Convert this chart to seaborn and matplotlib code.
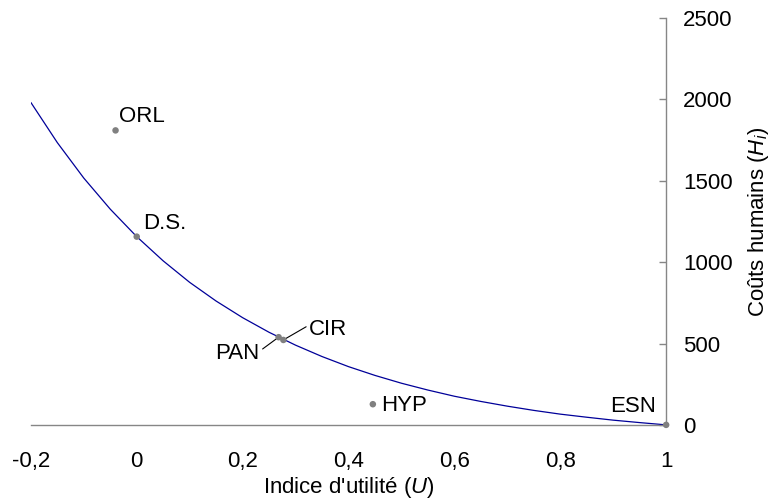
import numpy as np
import pandas as pd
import matplotlib
matplotlib.use("Agg")
import matplotlib.pyplot as plt
import seaborn as sns
from matplotlib.ticker import FuncFormatter

# Sectors: utility index U and human costs H_i
sectors = ["ORL", "D.S.", "PAN", "CIR", "HYP", "ESN"]
utility = [-0.04, 0.0, 0.268, 0.277, 0.446, 1.0]
costs = [1810, 1157, 539, 522, 127, 0]

# Fitted curve, every 0.05
curve_u = [-0.2, -0.15, -0.1, -0.05, 0.0, 0.05, 0.1, 0.15, 0.2, 0.25, 0.3, 0.35, 0.4,
           0.45, 0.5, 0.55, 0.6, 0.65, 0.7, 0.75, 0.8, 0.85, 0.9, 0.95, 1.0]
curve_h = [1982, 1735, 1517, 1326, 1157, 1008, 876, 761, 659, 569, 490, 420, 358,
           304, 256, 214, 176, 144, 115, 89, 66, 47, 29, 14, 0]

x_ticks = [-0.2, 0, 0.2, 0.4, 0.6, 0.8, 1]
y_ticks = [0, 500, 1000, 1500, 2000, 2500]

pts = pd.DataFrame({"sector": sectors, "U": utility, "H": costs})
curve = pd.DataFrame({"U": curve_u, "H": curve_h})

sns.set_theme(style="white")
plt.rcParams["font.family"] = ["Liberation Sans", "DejaVu Sans"]
plt.rcParams["mathtext.fontset"] = "custom"
plt.rcParams["mathtext.it"] = "Liberation Sans:italic"
plt.rcParams["mathtext.rm"] = "Liberation Sans"
plt.rcParams["text.color"] = "black"
plt.rcParams["axes.labelcolor"] = "black"

fig = plt.figure(figsize=(7.71, 5.04), dpi=100)
ax = fig.add_axes([0.040, 0.157, 0.824, 0.807])

sns.lineplot(data=curve, x="U", y="H", ax=ax, color="#000099", linewidth=0.9)
sns.scatterplot(data=pts, x="U", y="H", ax=ax, color="#808080", s=22,
                edgecolor="none", zorder=5, clip_on=False)

# labels (left edge / baseline offsets)
fs = 16
label_pos = {"ORL": (0.006, 50), "D.S.": (0.012, 50), "CIR": (0.048, 30),
             "HYP": (0.016, -40), "ESN": (-0.106, 82)}
for s, u, h in zip(sectors, utility, costs):
    if s in label_pos:
        dx, dy = label_pos[s]
        ty = dy if s == "ESN" else h + dy
        ax.text(u + dx, ty, s, fontsize=fs, ha="left", va="baseline", color="black")
# PAN and CIR with leader lines
ax.annotate("PAN", xy=(utility[2], costs[2]), xytext=(0.148, 405), fontsize=fs,
            ha="left", va="baseline",
            arrowprops=dict(arrowstyle="-", color="black", lw=0.8, shrinkA=0, shrinkB=0,
                            relpos=(1.0, 0.6)))
ax.plot([utility[3], 0.32], [costs[3], 603], color="black", lw=0.8)

ax.set_xlim(-0.2, 1.0)
ax.set_ylim(0, 2500)
ax.set_xticks(x_ticks)
ax.set_yticks(y_ticks)
fmt = FuncFormatter(lambda v, p: f"{v:g}".replace(".", ",").replace("\u2212", "-"))
ax.xaxis.set_major_formatter(fmt)

ax.yaxis.tick_right()
ax.yaxis.set_label_position("right")
for side in ["top", "left"]:
    ax.spines[side].set_visible(False)
for side in ["bottom", "right"]:
    ax.spines[side].set_color("#868686")
    ax.spines[side].set_linewidth(1.0)

ax.tick_params(axis="x", direction="out", length=5, width=1, color="#868686",
               labelsize=fs, pad=14, labelcolor="black")
ax.tick_params(axis="y", direction="in", length=5, width=1, color="#868686",
               labelsize=fs, pad=12, right=True, left=False, labelcolor="black")

ax.set_xlabel("Indice d'utilité ($U$)", fontsize=fs, labelpad=2)
ax.set_ylabel("Coûts humains ($H_i$)", fontsize=fs, labelpad=10)
ax.grid(False)

fig.savefig("out.png", dpi=100)
